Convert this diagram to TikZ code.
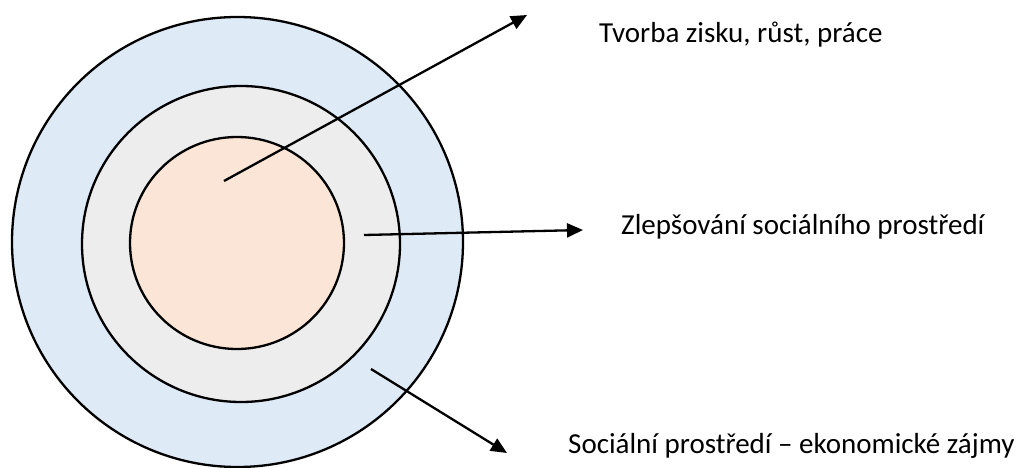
\documentclass[tikz,border=0pt]{standalone}
\usepackage{fontspec}
\setmainfont{Carlito}
\usetikzlibrary{arrows.meta}
\definecolor{outerblue}{HTML}{DEEAF6}
\definecolor{midgray}{HTML}{EDEDED}
\definecolor{innerpeach}{HTML}{FBE5D6}
\tikzset{
  ring/.style={draw=black, line width=2.3pt},
  pointer/.style={draw=black, line width=2.3pt, -{Triangle[length=16pt,width=14pt]}},
  label/.style={anchor=base west, inner sep=0pt, font=\fontsize{29}{35}\selectfont}
}
\begin{document}
\begin{tikzpicture}[x=1pt,y=-1pt]
\useasboundingbox (0,0) rectangle (1025,468);
\draw[ring, fill=outerblue] (237.5,242) ellipse [x radius=225.5, y radius=225];
\draw[ring, fill=midgray] (241,244) ellipse [x radius=159, y radius=158];
\draw[ring, fill=innerpeach] (237,243) ellipse [x radius=107, y radius=106];
\coordinate (s1) at (224,181);
\coordinate (e1) at (527,15);
\coordinate (s2) at (364,235);
\coordinate (e2) at (583,230);
\coordinate (s3) at (371,369);
\coordinate (e3) at (507,453);
\draw[pointer] (s1) -- (e1);
\draw[pointer] (s2) -- (e2);
\draw[pointer] (s3) -- (e3);
\node[label] (t1) at (599,43) {Tvorba zisku, růst, práce};
\node[label] (t2) at (621,234) {Zlepšování sociálního prostředí};
\node[label] (t3) at (568,453) {Sociální prostředí – ekonomické zájmy};
\end{tikzpicture}
\end{document}
